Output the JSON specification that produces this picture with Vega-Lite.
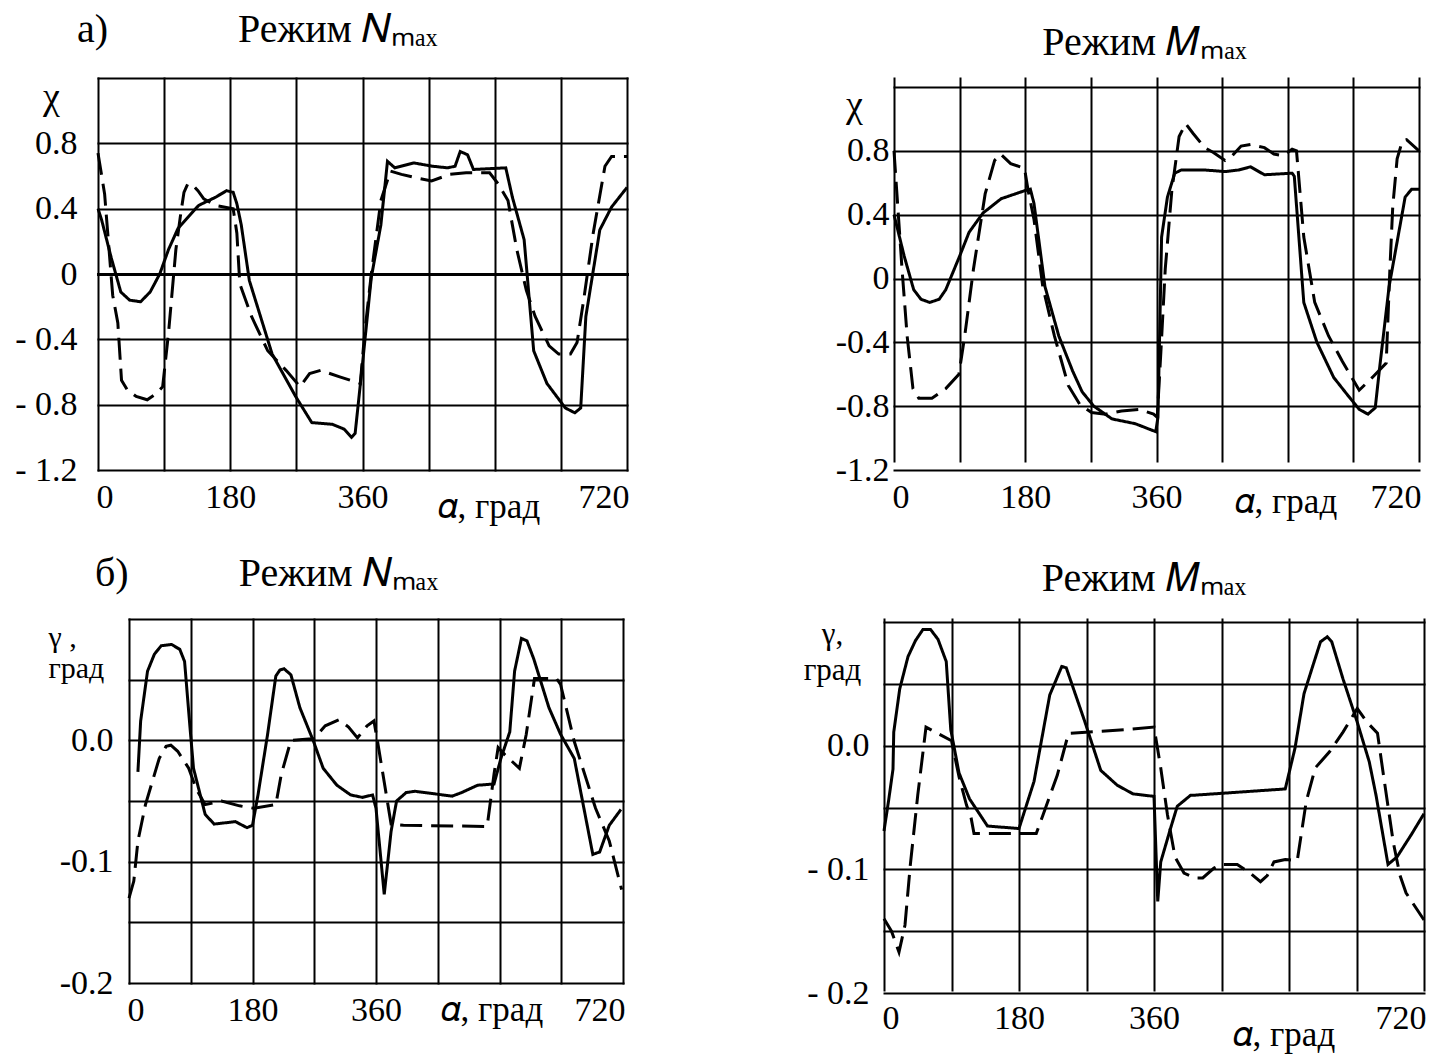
{
  "$schema": "https://vega.github.io/schema/vega-lite/v6.json",
  "padding": {"left": 14, "top": 10, "right": 5, "bottom": 5},
  "background": "white",
  "columns": 2,
  "bounds": "flush",
  "align": "each",
  "spacing": {"row": 149, "column": 257},
  "config": {
    "font": "Liberation Serif",
    "view": {"stroke": null},
    "title": {"font": "Liberation Serif", "fontWeight": "normal", "fontSize": 40, "color": "black", "frame": "group", "baseline": "alphabetic"},
    "axis": {
      "labelFont": "Liberation Serif", "titleFont": "Liberation Serif",
      "labelColor": "black", "titleColor": "black", "labelFontSize": 34, "titleFontSize": 35,
      "titleFontWeight": "normal", "gridColor": "black", "gridOpacity": 1, "gridWidth": 2, "gridCap": "square",
      "domain": false, "ticks": false, "tickSize": 0, "labelOverlap": false, "labelBound": false
    },
    "axisX": {"labelFlush": true, "labelFlushOffset": 2},
    "axisY": {"labelFlush": false},
    "line": {"color": "black", "strokeWidth": 3}
  },
  "datasets": {
    "a": [
      {"x": 0, "y": 0.40, "s": "solid"}, {"x": 5, "y": 0.33, "s": "solid"}, {"x": 18, "y": 0.10, "s": "solid"}, {"x": 31, "y": -0.11, "s": "solid"}, {"x": 43, "y": -0.16, "s": "solid"}, {"x": 58, "y": -0.17, "s": "solid"}, {"x": 71, "y": -0.11, "s": "solid"}, {"x": 84, "y": 0.0, "s": "solid"}, {"x": 96, "y": 0.15, "s": "solid"}, {"x": 109, "y": 0.28, "s": "solid"}, {"x": 137, "y": 0.42, "s": "solid"}, {"x": 160, "y": 0.47, "s": "solid"}, {"x": 175, "y": 0.51, "s": "solid"}, {"x": 184, "y": 0.50, "s": "solid"}, {"x": 189, "y": 0.43, "s": "solid"}, {"x": 195, "y": 0.30, "s": "solid"}, {"x": 206, "y": -0.04, "s": "solid"}, {"x": 237, "y": -0.49, "s": "solid"}, {"x": 269, "y": -0.75, "s": "solid"}, {"x": 291, "y": -0.91, "s": "solid"}, {"x": 319, "y": -0.92, "s": "solid"}, {"x": 335, "y": -0.95, "s": "solid"}, {"x": 345, "y": -1.0, "s": "solid"}, {"x": 350, "y": -0.975, "s": "solid"}, {"x": 360, "y": -0.55, "s": "solid"}, {"x": 372, "y": -0.02, "s": "solid"}, {"x": 385, "y": 0.30, "s": "solid"}, {"x": 394, "y": 0.69, "s": "solid"}, {"x": 404, "y": 0.65, "s": "solid"}, {"x": 430, "y": 0.68, "s": "solid"}, {"x": 455, "y": 0.66, "s": "solid"}, {"x": 476, "y": 0.65, "s": "solid"}, {"x": 486, "y": 0.66, "s": "solid"}, {"x": 493, "y": 0.75, "s": "solid"}, {"x": 503, "y": 0.73, "s": "solid"}, {"x": 511, "y": 0.64, "s": "solid"}, {"x": 555, "y": 0.65, "s": "solid"}, {"x": 564, "y": 0.47, "s": "solid"}, {"x": 580, "y": 0.21, "s": "solid"}, {"x": 593, "y": -0.47, "s": "solid"}, {"x": 611, "y": -0.67, "s": "solid"}, {"x": 636, "y": -0.82, "s": "solid"}, {"x": 649, "y": -0.85, "s": "solid"}, {"x": 657, "y": -0.82, "s": "solid"}, {"x": 664, "y": -0.26, "s": "solid"}, {"x": 683, "y": 0.27, "s": "solid"}, {"x": 699, "y": 0.41, "s": "solid"}, {"x": 720, "y": 0.53, "s": "solid"},
      {"x": 0, "y": 0.74, "s": "dashed"}, {"x": 9, "y": 0.49, "s": "dashed"}, {"x": 20, "y": -0.13, "s": "dashed"}, {"x": 27, "y": -0.30, "s": "dashed"}, {"x": 32, "y": -0.65, "s": "dashed"}, {"x": 40, "y": -0.71, "s": "dashed"}, {"x": 52, "y": -0.75, "s": "dashed"}, {"x": 67, "y": -0.77, "s": "dashed"}, {"x": 80, "y": -0.73, "s": "dashed"}, {"x": 88, "y": -0.69, "s": "dashed"}, {"x": 96, "y": -0.36, "s": "dashed"}, {"x": 106, "y": 0.15, "s": "dashed"}, {"x": 112, "y": 0.35, "s": "dashed"}, {"x": 117, "y": 0.50, "s": "dashed"}, {"x": 122, "y": 0.55, "s": "dashed"}, {"x": 128, "y": 0.55, "s": "dashed"}, {"x": 136, "y": 0.51, "s": "dashed"}, {"x": 144, "y": 0.46, "s": "dashed"}, {"x": 160, "y": 0.42, "s": "dashed"}, {"x": 184, "y": 0.40, "s": "dashed"}, {"x": 189, "y": 0.25, "s": "dashed"}, {"x": 193, "y": -0.06, "s": "dashed"}, {"x": 209, "y": -0.26, "s": "dashed"}, {"x": 231, "y": -0.47, "s": "dashed"}, {"x": 256, "y": -0.59, "s": "dashed"}, {"x": 275, "y": -0.69, "s": "dashed"}, {"x": 288, "y": -0.61, "s": "dashed"}, {"x": 303, "y": -0.59, "s": "dashed"}, {"x": 329, "y": -0.63, "s": "dashed"}, {"x": 357, "y": -0.67, "s": "dashed"}, {"x": 363, "y": -0.36, "s": "dashed"}, {"x": 372, "y": 0.0, "s": "dashed"}, {"x": 385, "y": 0.45, "s": "dashed"}, {"x": 398, "y": 0.63, "s": "dashed"}, {"x": 413, "y": 0.61, "s": "dashed"}, {"x": 432, "y": 0.59, "s": "dashed"}, {"x": 454, "y": 0.57, "s": "dashed"}, {"x": 479, "y": 0.61, "s": "dashed"}, {"x": 501, "y": 0.62, "s": "dashed"}, {"x": 533, "y": 0.62, "s": "dashed"}, {"x": 545, "y": 0.55, "s": "dashed"}, {"x": 558, "y": 0.45, "s": "dashed"}, {"x": 570, "y": 0.15, "s": "dashed"}, {"x": 583, "y": -0.10, "s": "dashed"}, {"x": 595, "y": -0.26, "s": "dashed"}, {"x": 614, "y": -0.44, "s": "dashed"}, {"x": 627, "y": -0.49, "s": "dashed"}, {"x": 643, "y": -0.49, "s": "dashed"}, {"x": 652, "y": -0.42, "s": "dashed"}, {"x": 661, "y": -0.16, "s": "dashed"}, {"x": 674, "y": 0.25, "s": "dashed"}, {"x": 690, "y": 0.66, "s": "dashed"}, {"x": 699, "y": 0.72, "s": "dashed"}, {"x": 720, "y": 0.72, "s": "dashed"}
    ],
    "b": [
      {"x": 0, "y": 0.40, "s": "solid"}, {"x": 14, "y": 0.14, "s": "solid"}, {"x": 27, "y": -0.07, "s": "solid"}, {"x": 37, "y": -0.13, "s": "solid"}, {"x": 49, "y": -0.15, "s": "solid"}, {"x": 62, "y": -0.13, "s": "solid"}, {"x": 71, "y": -0.07, "s": "solid"}, {"x": 90, "y": 0.14, "s": "solid"}, {"x": 103, "y": 0.29, "s": "solid"}, {"x": 122, "y": 0.41, "s": "solid"}, {"x": 147, "y": 0.50, "s": "solid"}, {"x": 179, "y": 0.55, "s": "solid"}, {"x": 187, "y": 0.56, "s": "solid"}, {"x": 192, "y": 0.47, "s": "solid"}, {"x": 207, "y": -0.05, "s": "solid"}, {"x": 226, "y": -0.36, "s": "solid"}, {"x": 245, "y": -0.58, "s": "solid"}, {"x": 258, "y": -0.71, "s": "solid"}, {"x": 274, "y": -0.80, "s": "solid"}, {"x": 299, "y": -0.88, "s": "solid"}, {"x": 331, "y": -0.91, "s": "solid"}, {"x": 359, "y": -0.96, "s": "solid"}, {"x": 362, "y": -0.87, "s": "solid"}, {"x": 367, "y": 0.26, "s": "solid"}, {"x": 375, "y": 0.51, "s": "solid"}, {"x": 385, "y": 0.66, "s": "solid"}, {"x": 394, "y": 0.68, "s": "solid"}, {"x": 426, "y": 0.68, "s": "solid"}, {"x": 454, "y": 0.67, "s": "solid"}, {"x": 473, "y": 0.68, "s": "solid"}, {"x": 489, "y": 0.70, "s": "solid"}, {"x": 508, "y": 0.65, "s": "solid"}, {"x": 546, "y": 0.66, "s": "solid"}, {"x": 549, "y": 0.64, "s": "solid"}, {"x": 562, "y": -0.15, "s": "solid"}, {"x": 580, "y": -0.40, "s": "solid"}, {"x": 603, "y": -0.62, "s": "solid"}, {"x": 622, "y": -0.73, "s": "solid"}, {"x": 638, "y": -0.82, "s": "solid"}, {"x": 650, "y": -0.85, "s": "solid"}, {"x": 660, "y": -0.81, "s": "solid"}, {"x": 666, "y": -0.56, "s": "solid"}, {"x": 679, "y": -0.05, "s": "solid"}, {"x": 701, "y": 0.51, "s": "solid"}, {"x": 710, "y": 0.56, "s": "solid"}, {"x": 720, "y": 0.56, "s": "solid"},
      {"x": 0, "y": 0.80, "s": "dashed"}, {"x": 11, "y": 0.06, "s": "dashed"}, {"x": 18, "y": -0.36, "s": "dashed"}, {"x": 26, "y": -0.69, "s": "dashed"}, {"x": 34, "y": -0.75, "s": "dashed"}, {"x": 52, "y": -0.75, "s": "dashed"}, {"x": 71, "y": -0.69, "s": "dashed"}, {"x": 89, "y": -0.60, "s": "dashed"}, {"x": 97, "y": -0.36, "s": "dashed"}, {"x": 109, "y": 0.06, "s": "dashed"}, {"x": 125, "y": 0.53, "s": "dashed"}, {"x": 138, "y": 0.74, "s": "dashed"}, {"x": 146, "y": 0.78, "s": "dashed"}, {"x": 160, "y": 0.72, "s": "dashed"}, {"x": 173, "y": 0.70, "s": "dashed"}, {"x": 179, "y": 0.69, "s": "dashed"}, {"x": 184, "y": 0.55, "s": "dashed"}, {"x": 192, "y": 0.37, "s": "dashed"}, {"x": 204, "y": -0.05, "s": "dashed"}, {"x": 220, "y": -0.36, "s": "dashed"}, {"x": 239, "y": -0.67, "s": "dashed"}, {"x": 255, "y": -0.79, "s": "dashed"}, {"x": 271, "y": -0.84, "s": "dashed"}, {"x": 290, "y": -0.85, "s": "dashed"}, {"x": 312, "y": -0.83, "s": "dashed"}, {"x": 337, "y": -0.82, "s": "dashed"}, {"x": 356, "y": -0.85, "s": "dashed"}, {"x": 361, "y": -0.87, "s": "dashed"}, {"x": 366, "y": -0.46, "s": "dashed"}, {"x": 372, "y": 0.06, "s": "dashed"}, {"x": 381, "y": 0.55, "s": "dashed"}, {"x": 391, "y": 0.89, "s": "dashed"}, {"x": 400, "y": 0.97, "s": "dashed"}, {"x": 410, "y": 0.91, "s": "dashed"}, {"x": 426, "y": 0.82, "s": "dashed"}, {"x": 438, "y": 0.79, "s": "dashed"}, {"x": 454, "y": 0.74, "s": "dashed"}, {"x": 464, "y": 0.77, "s": "dashed"}, {"x": 476, "y": 0.83, "s": "dashed"}, {"x": 489, "y": 0.84, "s": "dashed"}, {"x": 508, "y": 0.82, "s": "dashed"}, {"x": 521, "y": 0.78, "s": "dashed"}, {"x": 533, "y": 0.77, "s": "dashed"}, {"x": 546, "y": 0.81, "s": "dashed"}, {"x": 552, "y": 0.80, "s": "dashed"}, {"x": 562, "y": 0.26, "s": "dashed"}, {"x": 577, "y": -0.15, "s": "dashed"}, {"x": 596, "y": -0.36, "s": "dashed"}, {"x": 615, "y": -0.52, "s": "dashed"}, {"x": 638, "y": -0.70, "s": "dashed"}, {"x": 656, "y": -0.62, "s": "dashed"}, {"x": 675, "y": -0.53, "s": "dashed"}, {"x": 677, "y": -0.30, "s": "dashed"}, {"x": 680, "y": 0.05, "s": "dashed"}, {"x": 684, "y": 0.45, "s": "dashed"}, {"x": 690, "y": 0.75, "s": "dashed"}, {"x": 697, "y": 0.86, "s": "dashed"}, {"x": 703, "y": 0.87, "s": "dashed"}, {"x": 720, "y": 0.80, "s": "dashed"}
    ],
    "c": [
      {"x": 13, "y": -0.026, "s": "solid"}, {"x": 17, "y": 0.016, "s": "solid"}, {"x": 27, "y": 0.057, "s": "solid"}, {"x": 37, "y": 0.071, "s": "solid"}, {"x": 47, "y": 0.078, "s": "solid"}, {"x": 62, "y": 0.079, "s": "solid"}, {"x": 74, "y": 0.075, "s": "solid"}, {"x": 81, "y": 0.065, "s": "solid"}, {"x": 89, "y": 0.010, "s": "solid"}, {"x": 94, "y": -0.023, "s": "solid"}, {"x": 111, "y": -0.061, "s": "solid"}, {"x": 124, "y": -0.069, "s": "solid"}, {"x": 140, "y": -0.068, "s": "solid"}, {"x": 155, "y": -0.067, "s": "solid"}, {"x": 172, "y": -0.072, "s": "solid"}, {"x": 180, "y": -0.070, "s": "solid"}, {"x": 188, "y": -0.045, "s": "solid"}, {"x": 202, "y": 0.005, "s": "solid"}, {"x": 214, "y": 0.053, "s": "solid"}, {"x": 220, "y": 0.058, "s": "solid"}, {"x": 226, "y": 0.059, "s": "solid"}, {"x": 236, "y": 0.054, "s": "solid"}, {"x": 249, "y": 0.027, "s": "solid"}, {"x": 269, "y": -0.001, "s": "solid"}, {"x": 283, "y": -0.023, "s": "solid"}, {"x": 303, "y": -0.037, "s": "solid"}, {"x": 323, "y": -0.045, "s": "solid"}, {"x": 340, "y": -0.047, "s": "solid"}, {"x": 355, "y": -0.045, "s": "solid"}, {"x": 360, "y": -0.056, "s": "solid"}, {"x": 372, "y": -0.127, "s": "solid"}, {"x": 382, "y": -0.075, "s": "solid"}, {"x": 390, "y": -0.050, "s": "solid"}, {"x": 404, "y": -0.043, "s": "solid"}, {"x": 417, "y": -0.042, "s": "solid"}, {"x": 471, "y": -0.046, "s": "solid"}, {"x": 485, "y": -0.043, "s": "solid"}, {"x": 508, "y": -0.037, "s": "solid"}, {"x": 532, "y": -0.036, "s": "solid"}, {"x": 542, "y": -0.015, "s": "solid"}, {"x": 555, "y": 0.007, "s": "solid"}, {"x": 562, "y": 0.057, "s": "solid"}, {"x": 572, "y": 0.084, "s": "solid"}, {"x": 580, "y": 0.082, "s": "solid"}, {"x": 590, "y": 0.067, "s": "solid"}, {"x": 612, "y": 0.027, "s": "solid"}, {"x": 629, "y": 0.005, "s": "solid"}, {"x": 649, "y": -0.015, "s": "solid"}, {"x": 676, "y": -0.094, "s": "solid"}, {"x": 686, "y": -0.092, "s": "solid"}, {"x": 700, "y": -0.070, "s": "solid"}, {"x": 717, "y": -0.057, "s": "solid"},
      {"x": 0, "y": -0.130, "s": "dashed"}, {"x": 7, "y": -0.116, "s": "dashed"}, {"x": 13, "y": -0.083, "s": "dashed"}, {"x": 24, "y": -0.053, "s": "dashed"}, {"x": 34, "y": -0.034, "s": "dashed"}, {"x": 44, "y": -0.015, "s": "dashed"}, {"x": 54, "y": -0.005, "s": "dashed"}, {"x": 61, "y": -0.004, "s": "dashed"}, {"x": 71, "y": -0.009, "s": "dashed"}, {"x": 87, "y": -0.023, "s": "dashed"}, {"x": 98, "y": -0.040, "s": "dashed"}, {"x": 111, "y": -0.053, "s": "dashed"}, {"x": 135, "y": -0.050, "s": "dashed"}, {"x": 161, "y": -0.054, "s": "dashed"}, {"x": 182, "y": -0.056, "s": "dashed"}, {"x": 214, "y": -0.053, "s": "dashed"}, {"x": 222, "y": -0.028, "s": "dashed"}, {"x": 236, "y": 0.0, "s": "dashed"}, {"x": 262, "y": 0.001, "s": "dashed"}, {"x": 269, "y": 0.001, "s": "dashed"}, {"x": 286, "y": 0.012, "s": "dashed"}, {"x": 306, "y": 0.017, "s": "dashed"}, {"x": 320, "y": 0.011, "s": "dashed"}, {"x": 333, "y": 0.002, "s": "dashed"}, {"x": 347, "y": 0.012, "s": "dashed"}, {"x": 357, "y": 0.016, "s": "dashed"}, {"x": 362, "y": 0.0, "s": "dashed"}, {"x": 382, "y": -0.069, "s": "dashed"}, {"x": 400, "y": -0.070, "s": "dashed"}, {"x": 522, "y": -0.071, "s": "dashed"}, {"x": 532, "y": -0.028, "s": "dashed"}, {"x": 538, "y": -0.006, "s": "dashed"}, {"x": 548, "y": -0.012, "s": "dashed"}, {"x": 569, "y": -0.023, "s": "dashed"}, {"x": 579, "y": 0.005, "s": "dashed"}, {"x": 591, "y": 0.051, "s": "dashed"}, {"x": 623, "y": 0.051, "s": "dashed"}, {"x": 629, "y": 0.046, "s": "dashed"}, {"x": 649, "y": -0.001, "s": "dashed"}, {"x": 680, "y": -0.056, "s": "dashed"}, {"x": 700, "y": -0.083, "s": "dashed"}, {"x": 718, "y": -0.123, "s": "dashed"}
    ],
    "d": [
      {"x": 0, "y": -0.069, "s": "solid"}, {"x": 6, "y": -0.045, "s": "solid"}, {"x": 12, "y": -0.019, "s": "solid"}, {"x": 13, "y": 0.011, "s": "solid"}, {"x": 21, "y": 0.046, "s": "solid"}, {"x": 32, "y": 0.072, "s": "solid"}, {"x": 42, "y": 0.085, "s": "solid"}, {"x": 52, "y": 0.094, "s": "solid"}, {"x": 62, "y": 0.094, "s": "solid"}, {"x": 72, "y": 0.086, "s": "solid"}, {"x": 83, "y": 0.068, "s": "solid"}, {"x": 89, "y": 0.013, "s": "solid"}, {"x": 100, "y": -0.022, "s": "solid"}, {"x": 114, "y": -0.043, "s": "solid"}, {"x": 138, "y": -0.065, "s": "solid"}, {"x": 180, "y": -0.067, "s": "solid"}, {"x": 200, "y": -0.029, "s": "solid"}, {"x": 221, "y": 0.041, "s": "solid"}, {"x": 237, "y": 0.064, "s": "solid"}, {"x": 243, "y": 0.063, "s": "solid"}, {"x": 268, "y": 0.019, "s": "solid"}, {"x": 289, "y": -0.020, "s": "solid"}, {"x": 311, "y": -0.032, "s": "solid"}, {"x": 332, "y": -0.039, "s": "solid"}, {"x": 360, "y": -0.041, "s": "solid"}, {"x": 365, "y": -0.126, "s": "solid"}, {"x": 369, "y": -0.094, "s": "solid"}, {"x": 382, "y": -0.067, "s": "solid"}, {"x": 391, "y": -0.049, "s": "solid"}, {"x": 409, "y": -0.040, "s": "solid"}, {"x": 415, "y": -0.040, "s": "solid"}, {"x": 535, "y": -0.035, "s": "solid"}, {"x": 548, "y": -0.002, "s": "solid"}, {"x": 560, "y": 0.042, "s": "solid"}, {"x": 572, "y": 0.065, "s": "solid"}, {"x": 582, "y": 0.084, "s": "solid"}, {"x": 591, "y": 0.088, "s": "solid"}, {"x": 597, "y": 0.084, "s": "solid"}, {"x": 612, "y": 0.054, "s": "solid"}, {"x": 631, "y": 0.019, "s": "solid"}, {"x": 647, "y": -0.013, "s": "solid"}, {"x": 656, "y": -0.040, "s": "solid"}, {"x": 672, "y": -0.096, "s": "solid"}, {"x": 684, "y": -0.090, "s": "solid"}, {"x": 703, "y": -0.072, "s": "solid"}, {"x": 720, "y": -0.055, "s": "solid"},
      {"x": 0, "y": -0.140, "s": "dashed"}, {"x": 10, "y": -0.150, "s": "dashed"}, {"x": 20, "y": -0.167, "s": "dashed"}, {"x": 28, "y": -0.145, "s": "dashed"}, {"x": 35, "y": -0.097, "s": "dashed"}, {"x": 45, "y": -0.040, "s": "dashed"}, {"x": 56, "y": 0.015, "s": "dashed"}, {"x": 90, "y": 0.004, "s": "dashed"}, {"x": 100, "y": -0.025, "s": "dashed"}, {"x": 110, "y": -0.048, "s": "dashed"}, {"x": 116, "y": -0.058, "s": "dashed"}, {"x": 120, "y": -0.071, "s": "dashed"}, {"x": 138, "y": -0.071, "s": "dashed"}, {"x": 203, "y": -0.071, "s": "dashed"}, {"x": 212, "y": -0.056, "s": "dashed"}, {"x": 231, "y": -0.024, "s": "dashed"}, {"x": 246, "y": 0.010, "s": "dashed"}, {"x": 274, "y": 0.011, "s": "dashed"}, {"x": 323, "y": 0.013, "s": "dashed"}, {"x": 360, "y": 0.015, "s": "dashed"}, {"x": 369, "y": -0.018, "s": "dashed"}, {"x": 378, "y": -0.056, "s": "dashed"}, {"x": 388, "y": -0.090, "s": "dashed"}, {"x": 400, "y": -0.103, "s": "dashed"}, {"x": 415, "y": -0.107, "s": "dashed"}, {"x": 425, "y": -0.107, "s": "dashed"}, {"x": 440, "y": -0.099, "s": "dashed"}, {"x": 449, "y": -0.096, "s": "dashed"}, {"x": 471, "y": -0.096, "s": "dashed"}, {"x": 486, "y": -0.102, "s": "dashed"}, {"x": 502, "y": -0.110, "s": "dashed"}, {"x": 511, "y": -0.105, "s": "dashed"}, {"x": 520, "y": -0.094, "s": "dashed"}, {"x": 535, "y": -0.092, "s": "dashed"}, {"x": 551, "y": -0.093, "s": "dashed"}, {"x": 563, "y": -0.045, "s": "dashed"}, {"x": 575, "y": -0.018, "s": "dashed"}, {"x": 594, "y": -0.005, "s": "dashed"}, {"x": 612, "y": 0.011, "s": "dashed"}, {"x": 631, "y": 0.030, "s": "dashed"}, {"x": 644, "y": 0.019, "s": "dashed"}, {"x": 658, "y": 0.010, "s": "dashed"}, {"x": 666, "y": -0.024, "s": "dashed"}, {"x": 679, "y": -0.078, "s": "dashed"}, {"x": 688, "y": -0.105, "s": "dashed"}, {"x": 696, "y": -0.119, "s": "dashed"}, {"x": 720, "y": -0.141, "s": "dashed"}
    ]
  },
  "concat": [
    {
      "width": 529, "height": 392,
      "title": {"text": "а)\u2003\u2003\u2003 Режим \ud835\udc41\u2098\u2090\u2093", "anchor": "start", "dx": -21, "offset": 11},
      "data": {"name": "a"},
      "mark": {"type": "line", "color": "black", "strokeWidth": 3},
      "encoding": {
        "x": {"field": "x", "type": "quantitative", "scale": {"domain": [0, 720], "nice": false},
          "axis": {"values": [0, 90, 180, 270, 360, 450, 540, 630, 720], "labelExpr": "indexof([0,180,360,720], datum.value) >= 0 ? datum.label : ''", "labelPadding": 10,
            "title": "\ud835\udefc, град", "titleX": 339, "titleY": 47, "titleAlign": "left", "titleBaseline": "alphabetic"}},
        "y": {"field": "y", "type": "quantitative", "scale": {"domain": [-1.2, 1.2], "nice": false, "zero": false},
          "axis": {"values": [-1.2, -0.8, -0.4, 0, 0.4, 0.8, 1.2], "labelExpr": "datum.value > 1 ? '' : datum.value == 0 ? '0' : datum.value < 0 ? '- ' + format(-datum.value, '.1f') : format(datum.value, '.1f')", "labelPadding": 21,
            "gridWidth": {"condition": {"test": "datum.value === 0", "value": 3}, "value": 2},
            "title": "χ", "titleAngle": 0, "titleX": -47, "titleY": 30, "titleAlign": "center", "titleBaseline": "alphabetic", "titleFontSize": 38}},
        "strokeDash": {"field": "s", "type": "nominal", "scale": {"domain": ["solid", "dashed"], "range": [[1, 0], [22, 9]]}, "legend": null}
      }
    },
    {
      "width": 535, "height": 392,
      "title": {"text": "Режим \ud835\udc40\u2098\u2090\u2093", "anchor": "middle", "dx": -7, "offset": 7},
      "data": {"name": "b"},
      "mark": {"type": "line", "color": "black", "strokeWidth": 3},
      "encoding": {
        "x": {"field": "x", "type": "quantitative", "scale": {"domain": [0, 720], "nice": false, "range": [10, 535]},
          "axis": {"values": [0, 90, 180, 270, 360, 450, 540, 630, 720], "labelExpr": "indexof([0,180,360,720], datum.value) >= 0 ? datum.label : ''", "labelPadding": 10,
            "title": "\ud835\udefc, град", "titleX": 350, "titleY": 42, "titleAlign": "left", "titleBaseline": "alphabetic"}},
        "y": {"field": "y", "type": "quantitative", "scale": {"domain": [-1.2, 1.2], "nice": false, "zero": false, "range": [392, 9]},
          "axis": {"values": [-1.2, -0.8, -0.4, 0, 0.4, 0.8, 1.2], "labelExpr": "datum.value > 1 ? '' : datum.value == 0 ? '0' : datum.value < 0 ? '-' + format(-datum.value, '.1f') : format(datum.value, '.1f')", "labelPadding": 5, "offset": -10,
            "title": "χ", "titleAngle": 0, "titleX": -40, "titleY": 38, "titleAlign": "center", "titleBaseline": "alphabetic", "titleFontSize": 38}},
        "strokeDash": {"field": "s", "type": "nominal", "scale": {"domain": ["solid", "dashed"], "range": [[1, 0], [22, 9]]}, "legend": null}
      }
    },
    {
      "width": 525, "height": 364,
      "title": {"text": "б)\u2003\u2003\u2002 Режим \ud835\udc41\u2098\u2090\u2093", "anchor": "start", "dx": -3, "offset": 8},
      "data": {"name": "c"},
      "mark": {"type": "line", "color": "black", "strokeWidth": 3},
      "encoding": {
        "x": {"field": "x", "type": "quantitative", "scale": {"domain": [0, 720], "nice": false, "range": [31, 525]},
          "axis": {"values": [0, 90, 180, 270, 360, 450, 540, 630, 720], "labelExpr": "indexof([0,180,360,720], datum.value) >= 0 ? datum.label : ''", "labelPadding": 10,
            "title": "\ud835\udefc, град", "titleX": 342, "titleY": 37, "titleAlign": "left", "titleBaseline": "alphabetic"}},
        "y": {"field": "y", "type": "quantitative", "scale": {"domain": [-0.2, 0.1], "nice": false, "zero": false},
          "axis": {"values": [-0.2, -0.15, -0.1, -0.05, 0, 0.05, 0.1], "labelExpr": "datum.value == 0 ? '0.0' : datum.value == -0.1 ? '-0.1' : datum.value == -0.2 ? '-0.2' : ''", "labelPadding": 16, "offset": -31,
            "title": ["γ ,", "град"], "titleAngle": 0, "titleX": -81, "titleY": 27, "titleAlign": "left", "titleBaseline": "alphabetic", "titleLineHeight": 31, "titleFontSize": 30}},
        "strokeDash": {"field": "s", "type": "nominal", "scale": {"domain": ["solid", "dashed"], "range": [[1, 0], [22, 9]]}, "legend": null}
      }
    },
    {
      "width": 540, "height": 374,
      "title": {"text": "Режим \ud835\udc40\u2098\u2090\u2093", "anchor": "middle", "dx": -10, "offset": 6},
      "data": {"name": "d"},
      "mark": {"type": "line", "color": "black", "strokeWidth": 3},
      "encoding": {
        "x": {"field": "x", "type": "quantitative", "scale": {"domain": [0, 720], "nice": false},
          "axis": {"values": [0, 90, 180, 270, 360, 450, 540, 630, 720], "labelExpr": "indexof([0,180,360,720], datum.value) >= 0 ? datum.label : ''", "labelPadding": 8,
            "title": "\ud835\udefc, град", "titleX": 348, "titleY": 52, "titleAlign": "left", "titleBaseline": "alphabetic"}},
        "y": {"field": "y", "type": "quantitative", "scale": {"domain": [-0.2, 0.1], "nice": false, "zero": false, "range": [374, 3]},
          "axis": {"values": [-0.2, -0.15, -0.1, -0.05, 0, 0.05, 0.1], "labelExpr": "datum.value == 0 ? '0.0' : datum.value == -0.1 ? '- 0.1' : datum.value == -0.2 ? '- 0.2' : ''", "labelPadding": 15,
            "title": ["γ,", "град"], "titleAngle": 0, "titleX": -52, "titleY": 24, "titleAlign": "center", "titleBaseline": "alphabetic", "titleLineHeight": 36, "titleFontSize": 31}},
        "strokeDash": {"field": "s", "type": "nominal", "scale": {"domain": ["solid", "dashed"], "range": [[1, 0], [22, 9]]}, "legend": null}
      }
    }
  ]
}
